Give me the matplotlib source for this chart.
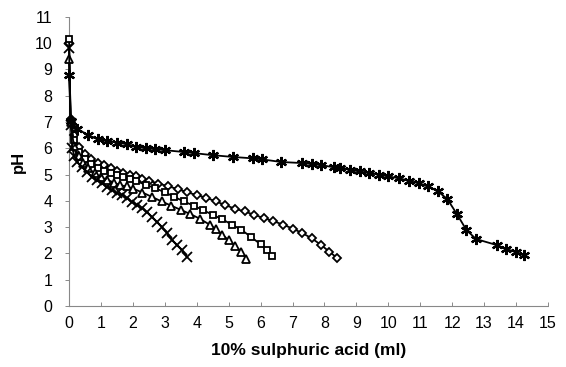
import matplotlib
matplotlib.use('Agg')
import matplotlib.pyplot as plt

# titration of the five samples with 10% H2SO4
diamond_ml = [0, 0.05, 0.15, 0.3, 0.5, 0.7, 0.9, 1.1, 1.3, 1.5, 1.7, 1.9, 2.1, 2.3, 2.5, 2.8, 3.1, 3.4,
              3.7, 4.0, 4.3, 4.6, 4.9, 5.2, 5.5, 5.8, 6.1, 6.4, 6.7, 7.0, 7.3, 7.6, 7.9, 8.15, 8.4]
diamond_ph = [10.0, 7.1, 6.5, 6.05, 5.8, 5.6, 5.45, 5.35, 5.25, 5.15, 5.07, 5.0, 4.93, 4.85, 4.77, 4.66, 4.56, 4.45,
              4.33, 4.22, 4.12, 3.98, 3.84, 3.7, 3.6, 3.47, 3.35, 3.23, 3.1, 2.95, 2.78, 2.58, 2.32, 2.07, 1.83]

square_ml = [0, 0.05, 0.15, 0.3, 0.5, 0.7, 0.9, 1.1, 1.3, 1.5, 1.7, 1.9, 2.1, 2.4, 2.7, 3.0, 3.3, 3.6,
             3.9, 4.2, 4.5, 4.8, 5.1, 5.4, 5.7, 6.0, 6.2, 6.35]
square_ph = [10.15, 7.0, 6.3, 5.85, 5.6, 5.4, 5.25, 5.15, 5.05, 4.97, 4.9, 4.82, 4.75, 4.62, 4.48, 4.33, 4.15, 3.98,
             3.82, 3.65, 3.47, 3.3, 3.1, 2.9, 2.63, 2.35, 2.12, 1.9]

triangle_ml = [0, 0.05, 0.15, 0.3, 0.45, 0.6, 0.8, 1.0, 1.2, 1.4, 1.6, 1.8, 2.0, 2.3, 2.6, 2.9, 3.2, 3.5,
               3.8, 4.1, 4.4, 4.6, 4.8, 5.0, 5.2, 5.4, 5.55]
triangle_ph = [9.4, 7.0, 6.1, 5.7, 5.45, 5.25, 5.05, 4.9, 4.8, 4.7, 4.6, 4.55, 4.47, 4.32, 4.15, 3.98, 3.82, 3.66,
               3.5, 3.32, 3.1, 2.92, 2.72, 2.5, 2.3, 2.05, 1.8]

cross_ml = [0, 0.05, 0.1, 0.17, 0.25, 0.41, 0.56, 0.72, 0.88, 1.03, 1.19, 1.35, 1.5, 1.66, 1.82, 1.97, 2.13,
            2.29, 2.44, 2.6, 2.76, 2.91, 3.07, 3.23, 3.38, 3.54, 3.7]
cross_ph = [9.8, 6.9, 6.0, 5.7, 5.48, 5.29, 5.1, 4.9, 4.79, 4.68, 4.52, 4.41, 4.3, 4.22, 4.11, 3.95, 3.84,
            3.73, 3.57, 3.38, 3.19, 3.0, 2.78, 2.51, 2.32, 2.13, 1.86]

star_ml = [0, 0.05, 0.25, 0.6, 0.9, 1.2, 1.5, 1.8, 2.1, 2.4, 2.7, 3.0, 3.6, 3.9, 4.5, 5.15, 5.75, 6.05, 6.65,
           7.3, 7.6, 7.9, 8.3, 8.5, 8.8, 9.1, 9.4, 9.7, 10.0, 10.35, 10.65, 10.95, 11.25, 11.55, 11.85, 12.15,
           12.45, 12.75, 13.4, 13.7, 14.0, 14.25]
star_ph = [8.8, 7.05, 6.75, 6.5, 6.35, 6.27, 6.22, 6.16, 6.06, 6.0, 5.97, 5.93, 5.86, 5.82, 5.74, 5.67, 5.62, 5.58, 5.48,
           5.44, 5.4, 5.36, 5.28, 5.25, 5.18, 5.12, 5.06, 5.0, 4.93, 4.86, 4.76, 4.67, 4.55, 4.37, 4.07, 3.5,
           2.89, 2.55, 2.32, 2.17, 2.05, 1.94]

x_ticks = list(range(0, 16))
y_ticks = list(range(0, 12))

plt.rcParams['font.family'] = ['Liberation Sans', 'DejaVu Sans']

fig = plt.figure(figsize=(5.66, 3.67), dpi=100)
ax = fig.add_axes([0.122, 0.166, 0.846, 0.788])

lw = 1.3
common = dict(color='black', linewidth=lw, clip_on=False, zorder=3)
ax.plot(diamond_ml, diamond_ph, marker='D', markersize=4.5, markerfacecolor='white',
        markeredgewidth=1.3, **common)
ax.plot(square_ml, square_ph, marker='s', markersize=5, markerfacecolor='white',
        markeredgewidth=1.3, **common)
ax.plot(triangle_ml, triangle_ph, marker='^', markersize=6, markerfacecolor='white',
        markeredgewidth=1.3, **common)
ax.plot(cross_ml, cross_ph, marker='x', markersize=6.5, markeredgewidth=1.3, **common)
ax.plot(star_ml, star_ph, marker=(6, 2, 0), markersize=8, markeredgewidth=1.6, **common)

ax.set_xlim(0, 15)
ax.set_ylim(0, 11)
ax.set_xticks(x_ticks)
ax.set_yticks(y_ticks)
ax.tick_params(axis='x', direction='in', length=3, width=0.6, colors='#777777', labelcolor='black',
               labelsize=11.5, pad=7)
ax.tick_params(axis='y', direction='out', length=3, width=0.6, colors='#777777', labelcolor='black',
               labelsize=11.5, pad=9)

for side in ['top', 'right']:
    ax.spines[side].set_visible(False)
for side in ['left', 'bottom']:
    ax.spines[side].set_color('#888888')
    ax.spines[side].set_linewidth(0.8)
    ax.spines[side].set_linestyle((0, (2, 1)))

ax.set_xlabel('10% sulphuric acid (ml)', fontsize=12.5, fontweight='bold', labelpad=9)
ax.set_ylabel('pH', fontsize=12, fontweight='bold', va='center')
ax.yaxis.set_label_coords(-0.105, 0.5)

plt.savefig('out.png', dpi=100)
